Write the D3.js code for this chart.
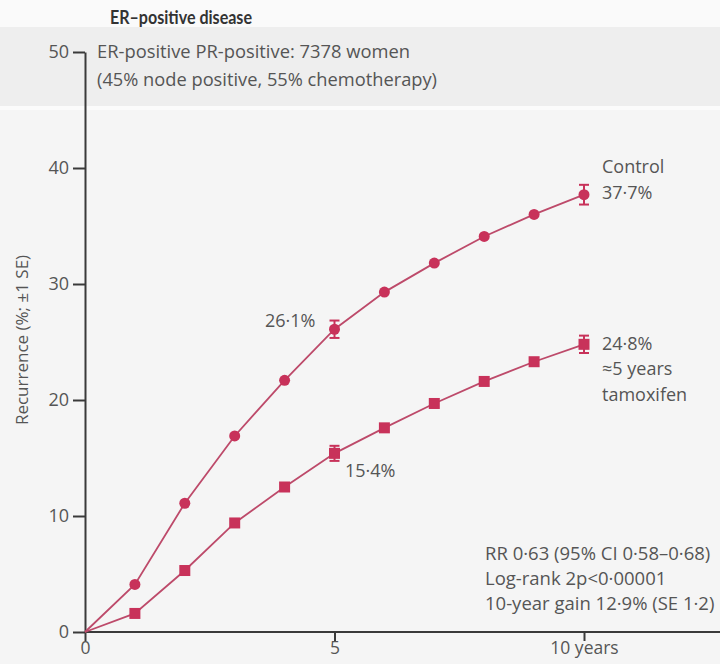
<!DOCTYPE html>
<html><head><meta charset="utf-8">
<script src="https://cdn.jsdelivr.net/npm/d3@7"></script>
<style>body{margin:0;background:#f5f5f5;}svg{display:block;}</style>
</head><body>
<script>
const years = [0,1,2,3,4,5,6,7,8,9,10];
const control = [0,4.1,11.1,16.9,21.7,26.1,29.3,31.8,34.1,36.0,37.7];
const tamoxifen = [0,1.6,5.3,9.4,12.5,15.4,17.6,19.7,21.6,23.3,24.8];
const controlSE = [{year:5,value:26.1,se:0.75},{year:10,value:37.7,se:0.85}];
const tamoxifenSE = [{year:5,value:15.4,se:0.65},{year:10,value:24.8,se:0.75}];
const yTicks = [0,10,20,30,40,50];
const xTicks = [0,5,10];
const xTickLabels = ["0","5","10 years"];
const statsLines = ["RR 0·63 (95% CI 0·58–0·68)","Log-rank 2p<0·00001","10-year gain 12·9% (SE 1·2)"];

const W=720,H=664;
const font="'Open Sans', 'Noto Sans', sans-serif";
const svg=d3.select("body").append("svg").attr("width",W).attr("height",H);
svg.append("rect").attr("width",W).attr("height",H).attr("fill","#f5f5f5");
svg.append("rect").attr("x",0).attr("y",0).attr("width",W).attr("height",27).attr("fill","#fafafa");
svg.append("rect").attr("x",0).attr("y",27).attr("width",W).attr("height",79).attr("fill","#eeeeee");
svg.append("rect").attr("x",0).attr("y",106).attr("width",W).attr("height",4).attr("fill","#fbfbfb");

const x=d3.scaleLinear().domain([0,10]).range([85,584]);
const y=d3.scaleLinear().domain([0,50]).range([632,52]);
const axisCol="#3a3a3a", textCol="#555";
const red="#c8325a", lineRed="#bd4a6a";

// axes
const yAxis=svg.append("g").attr("transform","translate(85,0)")
  .call(d3.axisLeft(y).tickValues(yTicks).tickSize(12).tickPadding(4).tickSizeOuter(0));
yAxis.select(".domain").attr("stroke",axisCol).attr("stroke-width",2);
yAxis.selectAll(".tick line").attr("stroke",axisCol).attr("stroke-width",2);
yAxis.selectAll(".tick text").attr("fill",textCol).attr("font-size",18).attr("font-family",font);

svg.append("line").attr("x1",85).attr("x2",720).attr("y1",632).attr("y2",632).attr("stroke",axisCol).attr("stroke-width",2);
const xAxis=svg.append("g").attr("transform","translate(0,632)")
  .call(d3.axisBottom(x).tickValues(xTicks).tickSize(9).tickPadding(1).tickFormat((d,i)=>xTickLabels[i]).tickSizeOuter(0));
xAxis.select(".domain").remove();
xAxis.selectAll(".tick line").attr("stroke",axisCol).attr("stroke-width",2);
xAxis.selectAll(".tick text").attr("fill",textCol).attr("font-size",17.5).attr("font-family",font);

// lines
const line=d3.line().x((d,i)=>x(years[i])).y(d=>y(d));
svg.append("path").attr("d",line(control)).attr("fill","none").attr("stroke",lineRed).attr("stroke-width",1.8);
svg.append("path").attr("d",line(tamoxifen)).attr("fill","none").attr("stroke",lineRed).attr("stroke-width",1.8);

// error bars
function errs(data){
  const g=svg.append("g").attr("stroke",red).attr("stroke-width",2);
  data.forEach(d=>{
    const cx=x(d.year);
    g.append("line").attr("x1",cx).attr("x2",cx).attr("y1",y(d.value+d.se)).attr("y2",y(d.value-d.se));
    g.append("line").attr("x1",cx-5).attr("x2",cx+5).attr("y1",y(d.value+d.se)).attr("y2",y(d.value+d.se));
    g.append("line").attr("x1",cx-5).attr("x2",cx+5).attr("y1",y(d.value-d.se)).attr("y2",y(d.value-d.se));
  });
}
errs(controlSE); errs(tamoxifenSE);

// markers
svg.append("g").selectAll("circle").data(control.slice(1)).join("circle")
  .attr("cx",(d,i)=>x(years[i+1])).attr("cy",d=>y(d)).attr("r",5.5).attr("fill",red);
svg.append("g").selectAll("rect").data(tamoxifen.slice(1)).join("rect")
  .attr("x",(d,i)=>x(years[i+1])-5.5).attr("y",d=>y(d)-5.5).attr("width",11).attr("height",11).attr("fill",red);

// texts
function txt(s,xx,yy,opt={}){
  return svg.append("text").attr("x",xx).attr("y",yy).text(s)
    .attr("font-family",opt.font||font).attr("font-size",opt.size||18).attr("fill",opt.fill||textCol)
    .attr("font-weight",opt.weight||"normal").attr("text-anchor",opt.anchor||"start")
    .attr("textLength",opt.len||null).attr("lengthAdjust",opt.len?"spacingAndGlyphs":null);
}
txt("ER–positive disease",110,24,{size:18,weight:"bold",fill:"#333",len:142,font:"Lato, 'Open Sans', sans-serif"});
txt("ER-positive PR-positive: 7378 women",97,58,{len:313});
txt("(45% node positive, 55% chemotherapy)",97,86,{len:340});
txt("26·1%",265,327);
txt("15·4%",345,477);
txt("Control",602,173);
txt("37·7%",602,199);
txt("24·8%",602,350);
txt("≈5 years",602,375);
txt("tamoxifen",602,401);
statsLines.forEach((s,i)=>txt(s,485,560+i*25,{size:18.5}));
svg.append("text").attr("transform","translate(28,340) rotate(-90)").attr("text-anchor","middle")
  .attr("font-family",font).attr("font-size",17).attr("fill",textCol).text("Recurrence (%; ±1 SE)");
</script>
</body></html>
